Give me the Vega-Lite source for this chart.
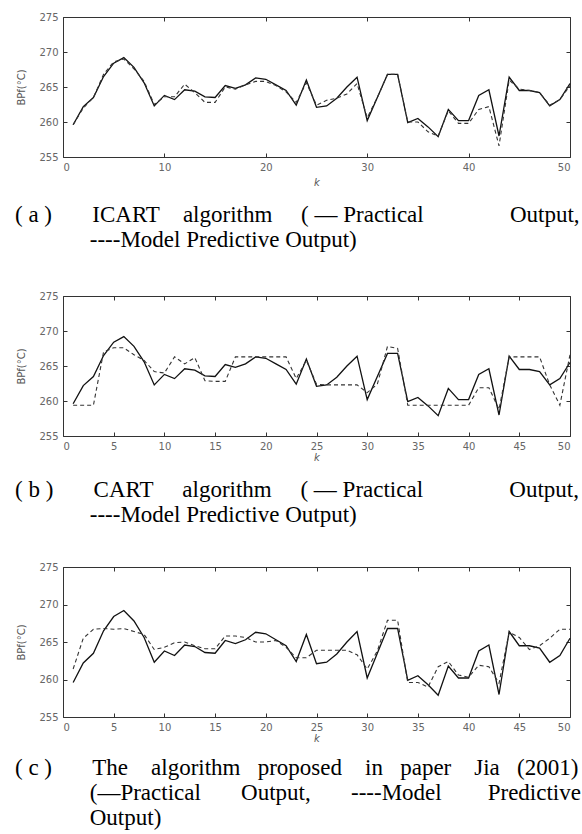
{
  "$schema": "https://vega.github.io/schema/vega-lite/v6.json",
  "padding": {"left": 15, "top": 12, "right": 0, "bottom": 0},
  "spacing": 39,
  "background": "white",
  "config": {
    "view": {"stroke": null},
    "axis": {"domainColor": "#333", "domainWidth": 1, "tickColor": "#333", "tickSize": -4, "labelColor": "#666", "labelFont": "DejaVu Sans", "labelFontSize": 10, "labelPadding": 9, "titleFont": "DejaVu Sans", "titleFontSize": 10, "titleColor": "#555", "titleFontWeight": "normal", "grid": false},
    "title": {"font": "Liberation Serif", "fontSize": 23, "fontWeight": "normal", "color": "#000", "lineHeight": 25, "orient": "bottom", "anchor": "start", "frame": "group", "dx": -48, "offset": 16}
  },
  "datasets": {
    "rows": [
      {"k": 1, "p": 259.6, "a": 259.6, "b": 259.4, "c": 261.4},
      {"k": 2, "p": 262.2, "a": 262.0, "b": 259.4, "c": 265.5},
      {"k": 3, "p": 263.5, "a": 263.5, "b": 259.4, "c": 266.7},
      {"k": 4, "p": 266.5, "a": 266.8, "b": 267.0, "c": 266.8},
      {"k": 5, "p": 268.4, "a": 268.6, "b": 267.6, "c": 266.7},
      {"k": 6, "p": 269.2, "a": 269.0, "b": 267.6, "c": 266.8},
      {"k": 7, "p": 267.8, "a": 267.6, "b": 266.6, "c": 266.4},
      {"k": 8, "p": 265.6, "a": 265.8, "b": 265.8, "c": 266.0},
      {"k": 9, "p": 262.3, "a": 262.5, "b": 264.2, "c": 264.0},
      {"k": 10, "p": 263.8, "a": 263.6, "b": 264.0, "c": 264.3},
      {"k": 11, "p": 263.2, "a": 263.6, "b": 266.3, "c": 264.9},
      {"k": 12, "p": 264.6, "a": 265.4, "b": 265.3, "c": 265.0},
      {"k": 13, "p": 264.4, "a": 264.2, "b": 266.2, "c": 264.5},
      {"k": 14, "p": 263.6, "a": 262.8, "b": 262.9, "c": 264.1},
      {"k": 15, "p": 263.5, "a": 262.8, "b": 262.8, "c": 264.1},
      {"k": 16, "p": 265.2, "a": 265.0, "b": 262.8, "c": 265.8},
      {"k": 17, "p": 264.8, "a": 264.7, "b": 266.3, "c": 265.8},
      {"k": 18, "p": 265.3, "a": 265.3, "b": 266.3, "c": 265.6},
      {"k": 19, "p": 266.3, "a": 265.8, "b": 266.3, "c": 265.0},
      {"k": 20, "p": 266.1, "a": 265.8, "b": 266.3, "c": 265.0},
      {"k": 21, "p": 265.3, "a": 265.2, "b": 266.3, "c": 265.2},
      {"k": 22, "p": 264.5, "a": 264.3, "b": 266.3, "c": 264.3},
      {"k": 23, "p": 262.4, "a": 262.8, "b": 263.2, "c": 262.9},
      {"k": 24, "p": 266.0, "a": 265.6, "b": 265.8, "c": 262.9},
      {"k": 25, "p": 262.1, "a": 262.4, "b": 262.4, "c": 263.9},
      {"k": 26, "p": 262.3, "a": 263.1, "b": 262.3, "c": 263.9},
      {"k": 27, "p": 263.4, "a": 263.4, "b": 262.3, "c": 263.9},
      {"k": 28, "p": 265.0, "a": 264.0, "b": 262.3, "c": 263.9},
      {"k": 29, "p": 266.4, "a": 265.5, "b": 262.3, "c": 263.3},
      {"k": 30, "p": 260.2, "a": 260.6, "b": 261.2, "c": 261.4},
      {"k": 31, "p": 263.5, "a": 263.5, "b": 262.4, "c": 263.8},
      {"k": 32, "p": 266.8, "a": 266.8, "b": 267.8, "c": 267.9},
      {"k": 33, "p": 266.8, "a": 266.8, "b": 267.5, "c": 267.9},
      {"k": 34, "p": 259.9, "a": 260.0, "b": 259.4, "c": 259.6},
      {"k": 35, "p": 260.5, "a": 260.0, "b": 259.4, "c": 259.6},
      {"k": 36, "p": 259.3, "a": 258.6, "b": 259.4, "c": 259.0},
      {"k": 37, "p": 257.9, "a": 258.0, "b": 259.4, "c": 261.7},
      {"k": 38, "p": 261.8, "a": 261.6, "b": 259.4, "c": 262.4},
      {"k": 39, "p": 260.2, "a": 259.8, "b": 259.4, "c": 260.6},
      {"k": 40, "p": 260.2, "a": 259.8, "b": 259.4, "c": 260.3},
      {"k": 41, "p": 263.8, "a": 261.8, "b": 261.9, "c": 261.9},
      {"k": 42, "p": 264.6, "a": 262.2, "b": 261.9, "c": 261.7},
      {"k": 43, "p": 258.0, "a": 256.6, "b": 258.8, "c": 259.5},
      {"k": 44, "p": 266.4, "a": 266.0, "b": 266.3, "c": 266.3},
      {"k": 45, "p": 264.5, "a": 264.7, "b": 266.3, "c": 265.6},
      {"k": 46, "p": 264.5, "a": 264.5, "b": 266.3, "c": 264.0},
      {"k": 47, "p": 264.2, "a": 264.2, "b": 266.3, "c": 264.5},
      {"k": 48, "p": 262.3, "a": 262.4, "b": 262.3, "c": 265.5},
      {"k": 49, "p": 263.2, "a": 263.2, "b": 259.4, "c": 266.7},
      {"k": 50, "p": 265.5, "a": 265.2, "b": 266.6, "c": 266.7}
    ]
  },
  "vconcat": [
    {
      "width": 507, "height": 140,
      "data": {"name": "rows"},
      "title": {"text": ["(\u00a0a\u00a0)\u00a0\u00a0\u00a0\u00a0\u00a0\u00a0\u00a0ICART\u00a0\u00a0\u00a0\u00a0algorithm\u00a0\u00a0\u00a0\u00a0\u00a0(\u00a0—\u00a0Practical\u00a0\u00a0\u00a0\u00a0\u00a0\u00a0\u00a0\u00a0\u00a0\u00a0\u00a0\u00a0\u00a0\u00a0\u00a0Output,", "\u200b\u00a0\u00a0\u00a0\u00a0\u00a0\u00a0\u00a0\u00a0\u00a0\u00a0\u00a0\u00a0\u00a0----Model Predictive Output)"], "offset": 17},
      "layer": [
        {"mark": {"type": "line", "color": "#111", "strokeWidth": 1.3},
         "encoding": {
           "x": {"field": "k", "type": "quantitative", "scale": {"domain": [0, 50], "nice": false}, "axis": {"values": [0, 10, 20, 30, 40, 50], "title": "k", "titleFontStyle": "italic", "titlePadding": 5}},
           "y": {"field": "p", "type": "quantitative", "scale": {"domain": [255, 275], "nice": false, "zero": false}, "axis": {"values": [255, 260, 265, 270, 275], "title": "BPf(°C)", "titlePadding": 12}}}},
        {"mark": {"type": "line", "color": "#333", "strokeWidth": 1.1, "strokeDash": [4, 3]},
         "encoding": {
           "x": {"field": "k", "type": "quantitative", "scale": {"domain": [0, 50], "nice": false}, "axis": {"orient": "top", "values": [0, 10, 20, 30, 40, 50], "labels": false, "title": null}},
           "y": {"field": "a", "type": "quantitative", "scale": {"domain": [255, 275], "nice": false, "zero": false}, "axis": {"orient": "right", "values": [255, 260, 265, 270, 275], "labels": false, "title": null}}}}
      ],
      "resolve": {"axis": {"x": "independent", "y": "independent"}}
    },
    {
      "spacing": 35,
      "vconcat": [
        {
          "width": 507, "height": 140,
          "data": {"name": "rows"},
          "title": {"text": ["(\u00a0b\u00a0)\u00a0\u00a0\u00a0\u00a0\u00a0\u00a0\u00a0CART\u00a0\u00a0\u00a0\u00a0\u00a0algorithm\u00a0\u00a0\u00a0\u00a0\u00a0(\u00a0—\u00a0Practical\u00a0\u00a0\u00a0\u00a0\u00a0\u00a0\u00a0\u00a0\u00a0\u00a0\u00a0\u00a0\u00a0\u00a0\u00a0Output,", "\u200b\u00a0\u00a0\u00a0\u00a0\u00a0\u00a0\u00a0\u00a0\u00a0\u00a0\u00a0\u00a0\u00a0----Model Predictive Output)"], "offset": 17},
          "layer": [
            {"mark": {"type": "line", "color": "#111", "strokeWidth": 1.3},
             "encoding": {
               "x": {"field": "k", "type": "quantitative", "scale": {"domain": [0, 50], "nice": false}, "axis": {"values": [0, 5, 10, 15, 20, 25, 30, 35, 40, 45, 50], "title": "k", "titleFontStyle": "italic", "titlePadding": 1}},
               "y": {"field": "p", "type": "quantitative", "scale": {"domain": [255, 275], "nice": false, "zero": false}, "axis": {"values": [255, 260, 265, 270, 275], "title": "BPf(°C)", "titlePadding": 12}}}},
            {"mark": {"type": "line", "color": "#333", "strokeWidth": 1.1, "strokeDash": [4, 3]},
             "encoding": {
               "x": {"field": "k", "type": "quantitative", "scale": {"domain": [0, 50], "nice": false}, "axis": {"orient": "top", "values": [0, 5, 10, 15, 20, 25, 30, 35, 40, 45, 50], "labels": false, "title": null}},
               "y": {"field": "b", "type": "quantitative", "scale": {"domain": [255, 275], "nice": false, "zero": false}, "axis": {"orient": "right", "values": [255, 260, 265, 270, 275], "labels": false, "title": null}}}}
          ],
          "resolve": {"axis": {"x": "independent", "y": "independent"}}
        },
        {
          "width": 507, "height": 150,
          "data": {"name": "rows"},
          "title": {"text": ["(\u00a0c\u00a0)\u00a0\u00a0\u00a0\u00a0\u00a0\u00a0\u00a0The\u00a0\u00a0\u00a0\u00a0algorithm\u00a0\u00a0\u00a0proposed\u00a0\u00a0\u00a0\u00a0in\u00a0\u00a0\u00a0paper\u00a0\u00a0\u00a0\u00a0Jia\u00a0\u00a0\u00a0(2001)", "\u200b\u00a0\u00a0\u00a0\u00a0\u00a0\u00a0\u00a0\u00a0\u00a0\u00a0\u00a0\u00a0\u00a0(—Practical\u00a0\u00a0\u00a0\u00a0\u00a0\u00a0\u00a0Output,\u00a0\u00a0\u00a0\u00a0\u00a0\u00a0\u00a0----Model\u00a0\u00a0\u00a0\u00a0\u00a0\u00a0\u00a0\u00a0Predictive", "\u200b\u00a0\u00a0\u00a0\u00a0\u00a0\u00a0\u00a0\u00a0\u00a0\u00a0\u00a0\u00a0\u00a0Output)"], "offset": 14},
          "layer": [
            {"mark": {"type": "line", "color": "#111", "strokeWidth": 1.3},
             "encoding": {
               "x": {"field": "k", "type": "quantitative", "scale": {"domain": [0, 50], "nice": false}, "axis": {"values": [0, 5, 10, 15, 20, 25, 30, 35, 40, 45, 50], "title": "k", "titleFontStyle": "italic", "titlePadding": 1}},
               "y": {"field": "p", "type": "quantitative", "scale": {"domain": [255, 275], "nice": false, "zero": false}, "axis": {"values": [255, 260, 265, 270, 275], "title": "BPf(°C)", "titlePadding": 12}}}},
            {"mark": {"type": "line", "color": "#333", "strokeWidth": 1.1, "strokeDash": [4, 3]},
             "encoding": {
               "x": {"field": "k", "type": "quantitative", "scale": {"domain": [0, 50], "nice": false}, "axis": {"orient": "top", "values": [0, 5, 10, 15, 20, 25, 30, 35, 40, 45, 50], "labels": false, "title": null}},
               "y": {"field": "c", "type": "quantitative", "scale": {"domain": [255, 275], "nice": false, "zero": false}, "axis": {"orient": "right", "values": [255, 260, 265, 270, 275], "labels": false, "title": null}}}}
          ],
          "resolve": {"axis": {"x": "independent", "y": "independent"}}
        }
      ]
    }
  ]
}
